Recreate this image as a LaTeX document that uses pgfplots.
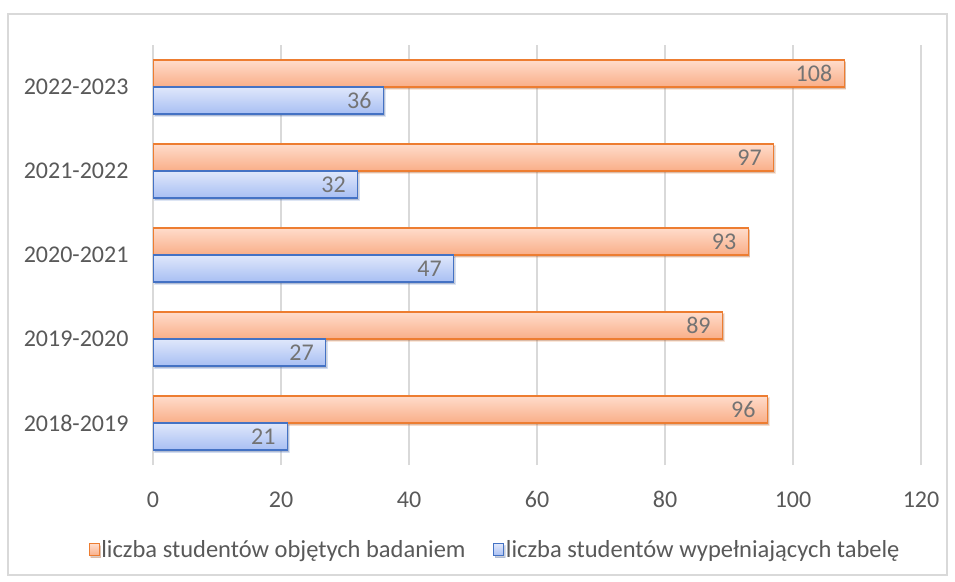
\documentclass[border=0pt]{standalone}
\usepackage{fontspec}
\setmainfont{Carlito}
\usepackage{pgfplots}
\pgfplotsset{compat=1.18}
\usetikzlibrary{shadows}
\definecolor{orbord}{HTML}{ED7D31}
\definecolor{ortop}{HTML}{FFDCCB}
\definecolor{orbot}{HTML}{F9AE88}
\definecolor{blbord}{HTML}{4472C4}
\definecolor{bltop}{HTML}{DFE7FB}
\definecolor{blbot}{HTML}{A8BFF3}
\definecolor{txt}{HTML}{595959}
\definecolor{lbl}{HTML}{737373}
\definecolor{gridc}{HTML}{D9D9D9}
\pgfplotsset{
  orbar/.style={bar shift=13.5pt, draw=orbord, line width=1.3pt, top color=ortop, bottom color=orbot,
    /tikz/drop shadow={shadow xshift=1.5pt, shadow yshift=-2pt, opacity=0.18, fill=black}},
  blbar/.style={bar shift=-13.5pt, draw=blbord, line width=1.3pt, top color=bltop, bottom color=blbot,
    /tikz/drop shadow={shadow xshift=1.5pt, shadow yshift=-2pt, opacity=0.18, fill=black}},
}
\begin{document}
\begin{tikzpicture}[x=1pt,y=1pt]
\fill[white] (0,0) rectangle (955,581);
\draw[gridc, line width=1.3pt] (8,6) rectangle (947,567);
\begin{axis}[
  at={(153pt,116pt)}, anchor=south west,
  scale only axis, width=768pt, height=420pt,
  xmin=0, xmax=120, ymin=-0.5, ymax=4.5,
  xtick={0,20,...,120},
  ytick={0,1,2,3,4},
  yticklabels={2018-2019,2019-2020,2020-2021,2021-2022,2022-2023},
  xmajorgrids, grid style={gridc, line width=1.3pt},
  axis line style={draw=none},
  major tick length=0pt,
  font=\fontsize{24}{29}\selectfont,
  /pgf/number format/assume math mode=true,
  tick label style={text=txt},
  xticklabel style={yshift=-23pt},
  yticklabel style={xshift=-21pt},
  xbar, bar width=27pt,
  nodes near coords,
  nodes near coords style={anchor=east, xshift=-8pt, text=lbl, font=\fontsize{24}{29}\selectfont},
  legend columns=2,
  legend style={at={(0.445,-0.202)}, anchor=center, draw=none, fill=none,
    font=\fontsize{24.5}{29}\selectfont, text=txt,
    /tikz/every even column/.append style={column sep=26pt},
    nodes={inner xsep=1.5pt}},
]
% series 1: liczba studentow objetych badaniem
\addplot[orbar, legend image code/.code={\draw[draw=orbord, line width=1.3pt, top color=ortop, bottom color=orbot] (0pt,-6pt) rectangle (10pt,6pt);}] coordinates {(96,0)};
\addplot[orbar, forget plot] coordinates {(89,1)};
\addplot[orbar, forget plot] coordinates {(93,2)};
\addplot[orbar, forget plot] coordinates {(97,3)};
\addplot[orbar, forget plot] coordinates {(108,4)};
% series 2: liczba studentow wypelniajacych tabele
\addplot[blbar, legend image code/.code={\draw[draw=blbord, line width=1.3pt, top color=bltop, bottom color=blbot] (0pt,-6pt) rectangle (10pt,6pt);}] coordinates {(21,0)};
\addplot[blbar, forget plot] coordinates {(27,1)};
\addplot[blbar, forget plot] coordinates {(47,2)};
\addplot[blbar, forget plot] coordinates {(32,3)};
\addplot[blbar, forget plot] coordinates {(36,4)};
\legend{liczba studentów objętych badaniem, liczba studentów wypełniających tabelę}
\end{axis}
\end{tikzpicture}
\end{document}
